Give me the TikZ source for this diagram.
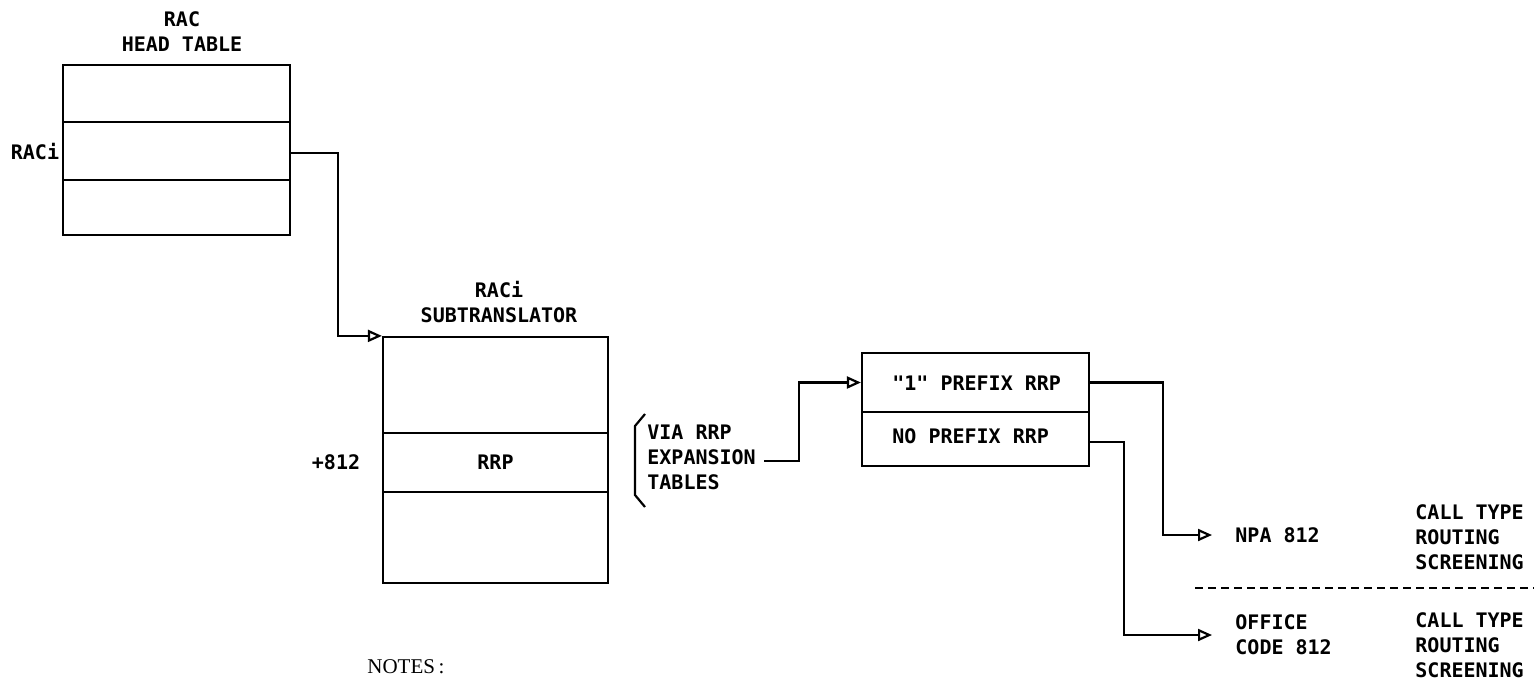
\documentclass[tikz,border=0pt]{standalone}
\usepackage{fontspec}
\setmonofont{DejaVu Sans Mono}
\newfontfamily\notesfont{Liberation Serif}
\usetikzlibrary{arrows.meta,calc}
\begin{document}
\begin{tikzpicture}[x=0.5pt,y=-0.5pt,
  every node/.style={font=\ttfamily\bfseries\fontsize{10}{12.5}\selectfont, inner sep=0pt},
  cell/.style={draw, line width=1.1pt, inner sep=0pt},
  lbl/.style={align=left},
  ttl/.style={align=center},
  conn/.style={line width=1.1pt, -{Triangle[open, length=7pt, width=6pt, line width=1.1pt]}},
  sep/.style={line width=1.1pt, dash pattern=on 4pt off 2.5pt}]
\useasboundingbox (0,0) rectangle (1534,680);
\fill[white] (0,0) rectangle (1534,680);
% RAC head table
\node[ttl] (headtitle) at (182,32) {RAC\\HEAD TABLE};
\node[cell, minimum width=113.5pt, minimum height=28.5pt] (h1) at (176.5,93.5) {};
\node[cell, minimum width=113.5pt, minimum height=29pt] (h2) at (176.5,151) {};
\node[cell, minimum width=113.5pt, minimum height=27.5pt] (h3) at (176.5,207.5) {};
\node (racilbl) at (35,152) {RACi};
% subtranslator
\node[ttl] (subtitle) at (499,302) {RACi\\SUBTRANSLATOR};
\node[cell, minimum width=112.5pt, minimum height=48pt] (s1) at (495.5,385) {};
\node[cell, minimum width=112.5pt, minimum height=29.5pt] (s2) at (495.5,462.5) {RRP};
\node[cell, minimum width=112.5pt, minimum height=45.5pt] (s3) at (495.5,537.5) {};
\node (plus) at (336,462) {+812};
% brace and via text
\draw[line width=1.1pt] (645,414) -- (635,426) -- (635,495) -- (645,507);
\node[lbl, anchor=west] (via) at (647,457) {VIA RRP\\EXPANSION\\TABLES};
\coordinate (viastart) at (764,461);
% prefix box
\node[cell, minimum width=113.5pt, minimum height=29.5pt] (p1) at (975.5,382.5) {};
\node[cell, minimum width=113.5pt, minimum height=27pt] (p2) at (975.5,439) {};
\node[anchor=west] (p1txt) at (892,383) {"1" PREFIX RRP};
\node[anchor=west] (p2txt) at (892,436) {NO PREFIX RRP};
% results
\node[anchor=west] (npa) at (1235,535) {NPA 812};
\node[lbl, anchor=west] (office) at (1235,635) {OFFICE\\CODE 812};
\node[lbl, anchor=west] (ct1) at (1415,537) {CALL TYPE\\ROUTING\\SCREENING};
\node[lbl, anchor=west] (ct2) at (1415,645) {CALL TYPE\\ROUTING\\SCREENING};
\coordinate (dashL) at (1195,588);
\coordinate (dashR) at (1534,588);
\draw[sep] (dashL) -- (dashR);
% notes
\node[anchor=west, font=\notesfont\fontsize{10.5}{12}\selectfont] (notes) at (367,667) {NOTES\,:};
% connectors
\draw[conn] ([yshift=-1pt]h2.east) -- ++(47,0) |- (s1.north west);
\draw[conn] (viastart) -- ++(35,0) |- (p1.west);
\draw[conn] (p1.east) -- ++(73,0) |- ([xshift=-11.5pt]npa.west);
\draw[conn] ([yshift=-1.5pt]p2.east) -- ++(34,0) |- ([xshift=-11.5pt]office.west);
\end{tikzpicture}
\end{document}
